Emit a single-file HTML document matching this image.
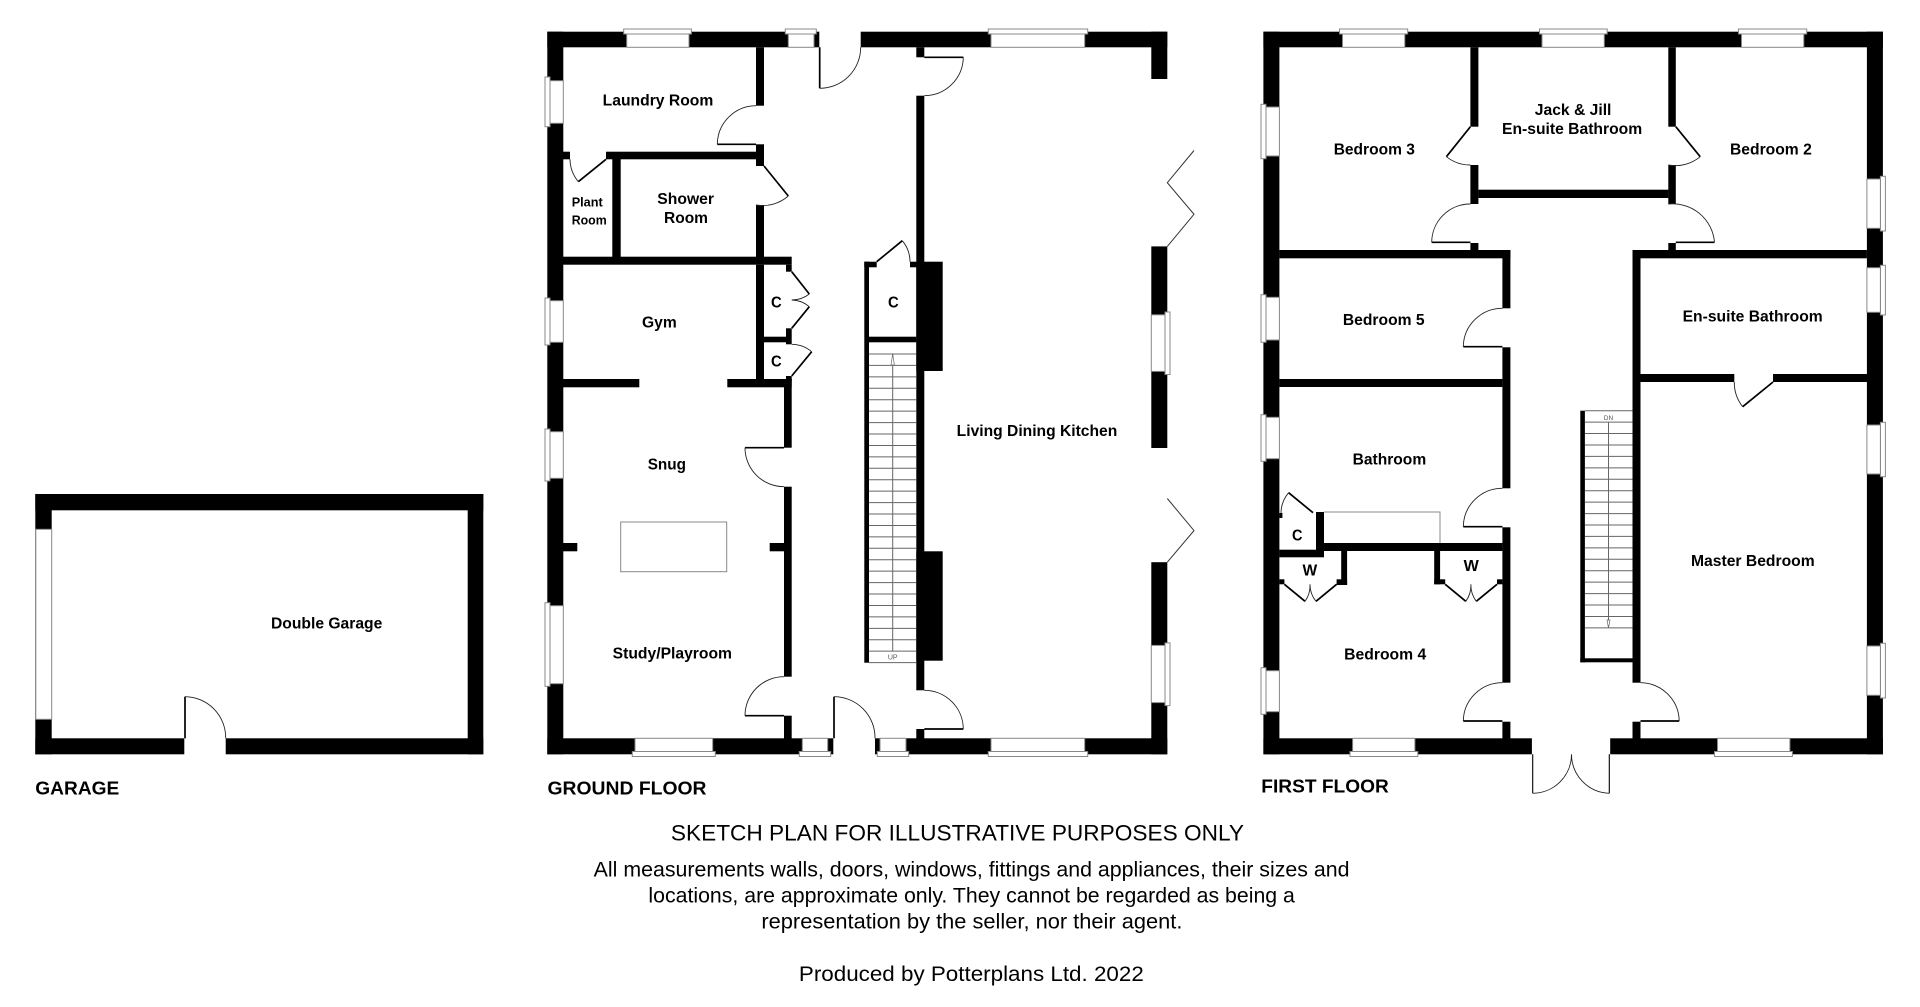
<!DOCTYPE html>
<html><head><meta charset="utf-8"><title>Floor plan</title>
<style>
html,body{margin:0;padding:0;background:#fff;width:1920px;height:1007px;overflow:hidden}
svg{display:block}
text{font-family:"Liberation Sans",sans-serif;fill:#000}
.l{font-weight:700;font-size:15.5px}
.h{font-weight:700;font-size:18px}
.f{font-size:21px}
.t{font-size:22px}
.w rect{fill:#fff;stroke:#888;stroke-width:1}
.a{fill:none;stroke:#222;stroke-width:.9}
.d{fill:none;stroke:#000;stroke-width:1.7}
.s{font-size:7px;fill:#555;text-anchor:middle}
</style></head><body>
<svg width="1920" height="1007" viewBox="0 0 1920 1007" xmlns="http://www.w3.org/2000/svg">
<rect width="1920" height="1007" fill="#fff"/>

<!-- GARAGE walls -->
<g fill="#000">
<rect x="35.3" y="494" width="448" height="16.3"/>
<rect x="35.3" y="494" width="16.4" height="260.3"/>
<rect x="467.7" y="494" width="15.6" height="260.3"/>
<rect x="35.3" y="738.3" width="149" height="16"/>
<rect x="225.7" y="738.3" width="257.6" height="16"/>
</g>
<rect x="35.8" y="529.3" width="15.9" height="190" fill="#fff" stroke="#888" stroke-width="1"/>
<path class="d" d="M185 696.7V738.3"/>
<path class="a" d="M185 696.7A41 41 0 0 1 225.7 738.3"/>

<!-- GROUND FLOOR walls -->
<g fill="#000">
<rect x="547.3" y="31.7" width="272" height="15.6"/>
<rect x="860.7" y="31.7" width="306.6" height="15.6"/>
<rect x="547.3" y="31.7" width="16" height="722.6"/>
<rect x="547.3" y="738.3" width="286" height="16"/>
<rect x="875" y="738.3" width="292.3" height="16"/>
<rect x="1151.3" y="31.7" width="16" height="47.3"/>
<rect x="1151.3" y="246.4" width="16" height="201.6"/>
<rect x="1151.3" y="562.2" width="16" height="192.1"/>
<!-- laundry wall -->
<rect x="756" y="47.3" width="8" height="58.4"/>
<rect x="756" y="144.3" width="8" height="21.7"/>
<rect x="606" y="151.7" width="150" height="7.6"/>
<rect x="563" y="151.7" width="7" height="7.6"/>
<rect x="612.3" y="159" width="8.4" height="98"/>
<rect x="756" y="205" width="8" height="52"/>
<rect x="563" y="256.7" width="228.7" height="8"/>
<rect x="756" y="264.7" width="8" height="116"/>
<rect x="563" y="379" width="76.3" height="8.3"/>
<rect x="727.3" y="379" width="64.4" height="8.3"/>
<rect x="786" y="264.7" width="5.7" height="7"/>
<rect x="786" y="328.3" width="5.7" height="16"/>
<rect x="764" y="336.7" width="24" height="5.6"/>
<rect x="786" y="376" width="5.7" height="5"/>
<rect x="784" y="379" width="7.7" height="68.7"/>
<rect x="784" y="486.7" width="7.7" height="190"/>
<rect x="784" y="715.7" width="7.7" height="23"/>
<rect x="563" y="543" width="14.3" height="8.3"/>
<rect x="769.7" y="543" width="14.3" height="8.3"/>
<!-- stair walls -->
<rect x="916.3" y="47.3" width="8" height="10"/>
<rect x="916.3" y="95.7" width="8" height="594.6"/>
<rect x="916.3" y="729" width="8" height="10"/>
<rect x="916.3" y="261.7" width="26.4" height="109.3"/>
<rect x="916.3" y="551.3" width="26.4" height="109.4"/>
<rect x="864.3" y="261.7" width="4.7" height="401"/>
<rect x="864.3" y="261.7" width="12.4" height="5.6"/>
<rect x="910" y="261.7" width="7" height="5.6"/>
<rect x="869" y="336.7" width="47.3" height="5.6"/>
</g>
<rect x="620.7" y="522" width="106" height="49.7" fill="none" stroke="#888" stroke-width="1"/>
<!-- ground stairs -->
<line x1="892.65" y1="353.5" x2="892.65" y2="663.2" stroke="#666" stroke-width="47.3" stroke-dasharray="1 10.43"/>
<path d="M892.7 354V651" stroke="#666" stroke-width="1" fill="none"/>
<path d="M891 365L892.7 354L894.4 365Z" fill="#fff" stroke="#666" stroke-width=".7"/>
<text class="s" x="892.7" y="659.5">UP</text>

<!-- ground windows -->
<g class="w">
<rect x="623.7" y="29" width="67.7" height="5"/><rect x="626.7" y="34" width="62.3" height="13.3"/>
<rect x="785.3" y="29" width="31" height="5"/><rect x="788.3" y="34" width="25.7" height="13.3"/>
<rect x="988.3" y="29" width="99.4" height="5"/><rect x="991" y="34" width="93.7" height="13.3"/>
<rect x="545" y="77" width="5" height="49.7"/><rect x="550" y="80.7" width="13.3" height="42.6"/>
<rect x="545" y="298" width="5" height="47"/><rect x="550" y="300.7" width="13.3" height="41.6"/>
<rect x="545" y="429" width="5" height="52"/><rect x="550" y="431.7" width="13.3" height="46.6"/>
<rect x="545" y="602.7" width="5" height="83.6"/><rect x="550" y="605.7" width="13.3" height="78"/>
<rect x="632.3" y="751.5" width="83" height="5"/><rect x="635" y="738.3" width="77.7" height="13.2"/>
<rect x="799.3" y="751.5" width="31.4" height="5"/><rect x="802.3" y="738.3" width="25.4" height="13.2"/>
<rect x="877.3" y="751.5" width="31.4" height="5"/><rect x="880" y="738.3" width="26" height="13.2"/>
<rect x="988.3" y="751.5" width="99.4" height="5"/><rect x="991" y="738.3" width="93.7" height="13.2"/>
<rect x="1165" y="312" width="5" height="62.5"/><rect x="1151.3" y="314.8" width="13.7" height="56.6"/>
<rect x="1165" y="642.9" width="5" height="62.7"/><rect x="1151.3" y="645.4" width="13.7" height="57.2"/>
</g>
<!-- ground doors -->
<path class="d" d="M819.7 47.3V88.3M717.3 144.3H756M578.3 181.7L606 159.3M764 166L788.3 196M791.7 271.7L809.3 294M809.3 306.7L791.7 328.3M811.7 351.7L791.7 376M745 447.7H784M745 715.7H784M834 696.7V738.3M924.3 729H963.3M924.3 57.3H963.3M876.7 261.7L902.3 240.7"/>
<path class="a" d="M819.7 88.3A41 41 0 0 0 860.7 47.3M756 105.7A39 39 0 0 0 717.3 144.3M570 159.3A36 36 0 0 0 578.3 181.7M788.3 196A39 39 0 0 1 756 205M809.3 294A28.4 28.4 0 0 1 791.7 300M791.7 300A28.4 28.4 0 0 1 809.3 306.7M791.7 344.3A31.6 31.6 0 0 1 811.7 351.7M745 447.7A39 39 0 0 0 784 486.7M784 676.7A39 39 0 0 0 745 715.7M834 696.7A41 41 0 0 1 875 738.3M924.3 690.3A39 39 0 0 1 963.3 729M963.3 57.3A39 39 0 0 1 924.3 95.7M902.3 240.7A33 33 0 0 1 910 261.7"/>
<path d="M1167.3 246.4L1194 214.3L1167.3 182.7L1194 150.5M1167.3 562.2L1194 530.6L1167.3 498.5" fill="none" stroke="#333" stroke-width="1"/>

<!-- FIRST FLOOR walls -->
<g fill="#000">
<rect x="1263.4" y="31.7" width="619.5" height="15.6"/>
<rect x="1263.4" y="31.7" width="16" height="722.6"/>
<rect x="1866.9" y="31.7" width="16" height="722.6"/>
<rect x="1263.4" y="738.3" width="268.5" height="16"/>
<rect x="1610.2" y="738.3" width="272.7" height="16"/>
<rect x="1470.4" y="47.3" width="8" height="79.4"/>
<rect x="1470.4" y="165" width="8" height="39"/>
<rect x="1668.3" y="47.3" width="7.5" height="79.4"/>
<rect x="1668.3" y="165" width="7.5" height="39"/>
<rect x="1478.4" y="189.7" width="190" height="8.3"/>
<rect x="1470.4" y="243" width="8" height="8"/>
<rect x="1668.3" y="243" width="7.5" height="8"/>
<rect x="1279.4" y="250" width="231" height="8.3"/>
<rect x="1632.9" y="250" width="234" height="8.3"/>
<rect x="1502.4" y="250" width="8" height="58.3"/>
<rect x="1502.4" y="347.3" width="8" height="141"/>
<rect x="1502.4" y="527.3" width="8" height="155.4"/>
<rect x="1502.4" y="721.7" width="8" height="17"/>
<rect x="1279.4" y="379" width="223" height="8"/>
<rect x="1632.5" y="250" width="8" height="432.7"/>
<rect x="1632.5" y="721.7" width="8" height="17"/>
<rect x="1640.5" y="374" width="93.8" height="8"/>
<rect x="1773" y="374" width="94" height="8"/>
<!-- bathroom / cupboards -->
<rect x="1324" y="543" width="178.4" height="8"/>
<rect x="1316" y="512" width="8" height="45"/>
<rect x="1279.4" y="513" width="3" height="5"/>
<rect x="1279.4" y="549.7" width="44.6" height="7.6"/>
<rect x="1341.2" y="551" width="5.9" height="34"/>
<rect x="1336.6" y="579.3" width="10.5" height="5.7"/>
<rect x="1279.4" y="579.3" width="5" height="5"/>
<rect x="1434.2" y="551" width="5.9" height="33.3"/>
<rect x="1434.2" y="579.3" width="11" height="5"/>
<rect x="1497" y="579.3" width="5.4" height="5"/>
<!-- stair walls -->
<rect x="1580.3" y="410.7" width="4.6" height="251.6"/>
<rect x="1580.3" y="658.3" width="52.2" height="4"/>
</g>
<path d="M1324 512H1440V543" fill="none" stroke="#888" stroke-width="1"/>
<!-- first stairs -->
<line x1="1608.7" y1="410.2" x2="1608.7" y2="629" stroke="#666" stroke-width="47.6" stroke-dasharray="1 10.43"/>
<path d="M1608.5 422V628" stroke="#666" stroke-width="1" fill="none"/>
<path d="M1607 620L1608.5 628L1610 620Z" fill="#fff" stroke="#666" stroke-width=".7"/>
<text class="s" x="1608.5" y="420" style="font-size:6.5px">DN</text>

<!-- first windows -->
<g class="w">
<rect x="1339.5" y="29" width="68.2" height="5"/><rect x="1342.5" y="34" width="62.3" height="13.3"/>
<rect x="1539.5" y="29" width="67.7" height="5"/><rect x="1542" y="34" width="62.3" height="13.3"/>
<rect x="1738.5" y="29" width="68.2" height="5"/><rect x="1741.5" y="34" width="62.3" height="13.3"/>
<rect x="1261" y="104.3" width="5" height="54.4"/><rect x="1266" y="107" width="13.4" height="49"/>
<rect x="1261" y="294.7" width="5" height="47.6"/><rect x="1266" y="297.3" width="13.4" height="42.7"/>
<rect x="1261" y="414.7" width="5" height="46.6"/><rect x="1266" y="417.3" width="13.4" height="41.4"/>
<rect x="1261" y="667.7" width="5" height="46.6"/><rect x="1266" y="670.7" width="13.4" height="41"/>
<rect x="1880.4" y="176.3" width="5" height="54.7"/><rect x="1866.9" y="179" width="13.5" height="49.3"/>
<rect x="1880.4" y="265.3" width="5" height="49.7"/><rect x="1866.9" y="267.7" width="13.5" height="44.6"/>
<rect x="1880.4" y="422.3" width="5" height="54.4"/><rect x="1866.9" y="425" width="13.5" height="49"/>
<rect x="1880.4" y="643.3" width="5" height="54.7"/><rect x="1866.9" y="646" width="13.5" height="49.3"/>
<rect x="1350" y="751.5" width="67.8" height="5"/><rect x="1352.6" y="738.3" width="62.3" height="13.2"/>
<rect x="1714.5" y="751.5" width="77.9" height="5"/><rect x="1717.5" y="738.3" width="72.4" height="13.2"/>
</g>
<!-- first doors -->
<path class="d" d="M1470.4 126.7L1446.4 156.7M1675.8 126.7L1700.2 156.7M1431.7 242.3H1470.4M1675.8 242.3H1714.5M1463.3 346.7H1502.4M1463.3 526.7H1502.4M1463.3 721H1502.4M1640.5 721H1679.2M1742.7 406.7L1773 382M1288.6 492.7L1313 512.7M1284.4 584.3L1305 601.3M1316 601.3L1336.6 584.3M1445.2 584.3L1465.8 601.3M1476.3 601.3L1497 584.3"/>
<path class="d" style="stroke-width:1.1" d="M1532.7 754.3V793.3M1609.3 754.3V793.3"/>
<path class="a" d="M1446.4 156.7A38.4 38.4 0 0 0 1470.4 165M1700.2 156.7A38.7 38.7 0 0 1 1668.3 165M1470.4 204A38.5 38.5 0 0 0 1431.7 242.3M1668.3 204A42 42 0 0 1 1714.5 242.3M1502.4 308.3A39 39 0 0 0 1463.3 346.7M1502.4 488.3A39 39 0 0 0 1463.3 526.7M1502.4 682.7A39 39 0 0 0 1463.3 721M1640.5 682.7A39 39 0 0 1 1679.2 721M1734.3 382A39 39 0 0 0 1742.7 406.7M1532.7 793.3A39 39 0 0 0 1571.5 754.3M1609.3 793.3A39 39 0 0 1 1571.5 754.3M1288.6 492.7A32 32 0 0 0 1281 513.3M1305 601.3A26.7 26.7 0 0 0 1310 584.3M1316 601.3A26.7 26.7 0 0 1 1310 584.3M1465.8 601.3A26.7 26.7 0 0 0 1470.9 584.3M1476.3 601.3A26.7 26.7 0 0 1 1470.9 584.3"/>

<!-- labels -->
<g class="labels">
<text class="l" x="271" y="628.3" textLength="111.3" lengthAdjust="spacingAndGlyphs">Double Garage</text>
<text class="h" x="35.3" y="794.3" textLength="84" lengthAdjust="spacingAndGlyphs">GARAGE</text>
<text class="h" x="547.5" y="794.3" textLength="159" lengthAdjust="spacingAndGlyphs">GROUND FLOOR</text>
<text class="h" x="1261.3" y="792.7" textLength="127.5" lengthAdjust="spacingAndGlyphs">FIRST FLOOR</text>

<text class="l" x="602.7" y="105.3" textLength="110.6" lengthAdjust="spacingAndGlyphs">Laundry Room</text>
<text class="l" style="font-size:13px" x="571.7" y="206.3" textLength="31" lengthAdjust="spacingAndGlyphs">Plant</text>
<text class="l" style="font-size:13px" x="571.7" y="224.3" textLength="35" lengthAdjust="spacingAndGlyphs">Room</text>
<text class="l" x="657.3" y="204" textLength="56.7" lengthAdjust="spacingAndGlyphs">Shower</text>
<text class="l" x="664" y="223" textLength="44" lengthAdjust="spacingAndGlyphs">Room</text>
<text class="l" x="642" y="327.7" textLength="34.7" lengthAdjust="spacingAndGlyphs">Gym</text>
<text class="l" x="771" y="307.3" textLength="10.7" lengthAdjust="spacingAndGlyphs">C</text>
<text class="l" x="771" y="366.7" textLength="10.7" lengthAdjust="spacingAndGlyphs">C</text>
<text class="l" x="888" y="307.3" textLength="10.7" lengthAdjust="spacingAndGlyphs">C</text>
<text class="l" x="647.7" y="469.3" textLength="38.3" lengthAdjust="spacingAndGlyphs">Snug</text>
<text class="l" x="612.7" y="658.3" textLength="119.3" lengthAdjust="spacingAndGlyphs">Study/Playroom</text>
<text class="l" x="956.7" y="435.8" textLength="160.6" lengthAdjust="spacingAndGlyphs">Living Dining Kitchen</text>

<text class="l" x="1333.7" y="154.3" textLength="81.2" lengthAdjust="spacingAndGlyphs">Bedroom 3</text>
<text class="l" x="1534.8" y="115" textLength="76.6" lengthAdjust="spacingAndGlyphs">Jack &amp; Jill</text>
<text class="l" x="1502" y="134" textLength="140.2" lengthAdjust="spacingAndGlyphs">En-suite Bathroom</text>
<text class="l" x="1730" y="154.3" textLength="81.8" lengthAdjust="spacingAndGlyphs">Bedroom 2</text>
<text class="l" x="1342.9" y="325" textLength="81.7" lengthAdjust="spacingAndGlyphs">Bedroom 5</text>
<text class="l" x="1682.6" y="321.7" textLength="140.1" lengthAdjust="spacingAndGlyphs">En-suite Bathroom</text>
<text class="l" x="1352.6" y="464.3" textLength="73.6" lengthAdjust="spacingAndGlyphs">Bathroom</text>
<text class="l" x="1292" y="540.7" textLength="10.5" lengthAdjust="spacingAndGlyphs">C</text>
<text class="l" x="1302.5" y="575.3" textLength="14.7" lengthAdjust="spacingAndGlyphs">W</text>
<text class="l" x="1463.7" y="571" textLength="15.2" lengthAdjust="spacingAndGlyphs">W</text>
<text class="l" x="1344.2" y="659.3" textLength="82" lengthAdjust="spacingAndGlyphs">Bedroom 4</text>
<text class="l" x="1691" y="566" textLength="123.7" lengthAdjust="spacingAndGlyphs">Master Bedroom</text>

<text class="t" x="670.9" y="840.7" textLength="573.1" lengthAdjust="spacingAndGlyphs">SKETCH PLAN FOR ILLUSTRATIVE PURPOSES ONLY</text>
<text class="f" x="593.7" y="876.7" textLength="755.8" lengthAdjust="spacingAndGlyphs">All measurements walls, doors, windows, fittings and appliances, their sizes and</text>
<text class="f" x="648.4" y="902.7" textLength="646.5" lengthAdjust="spacingAndGlyphs">locations, are approximate only. They cannot be regarded as being a</text>
<text class="f" x="761.4" y="928.7" textLength="421" lengthAdjust="spacingAndGlyphs">representation by the seller, nor their agent.</text>
<text class="f" x="798.9" y="981" textLength="344.9" lengthAdjust="spacingAndGlyphs">Produced by Potterplans Ltd. 2022</text>
</g>
</svg>
</body></html>
